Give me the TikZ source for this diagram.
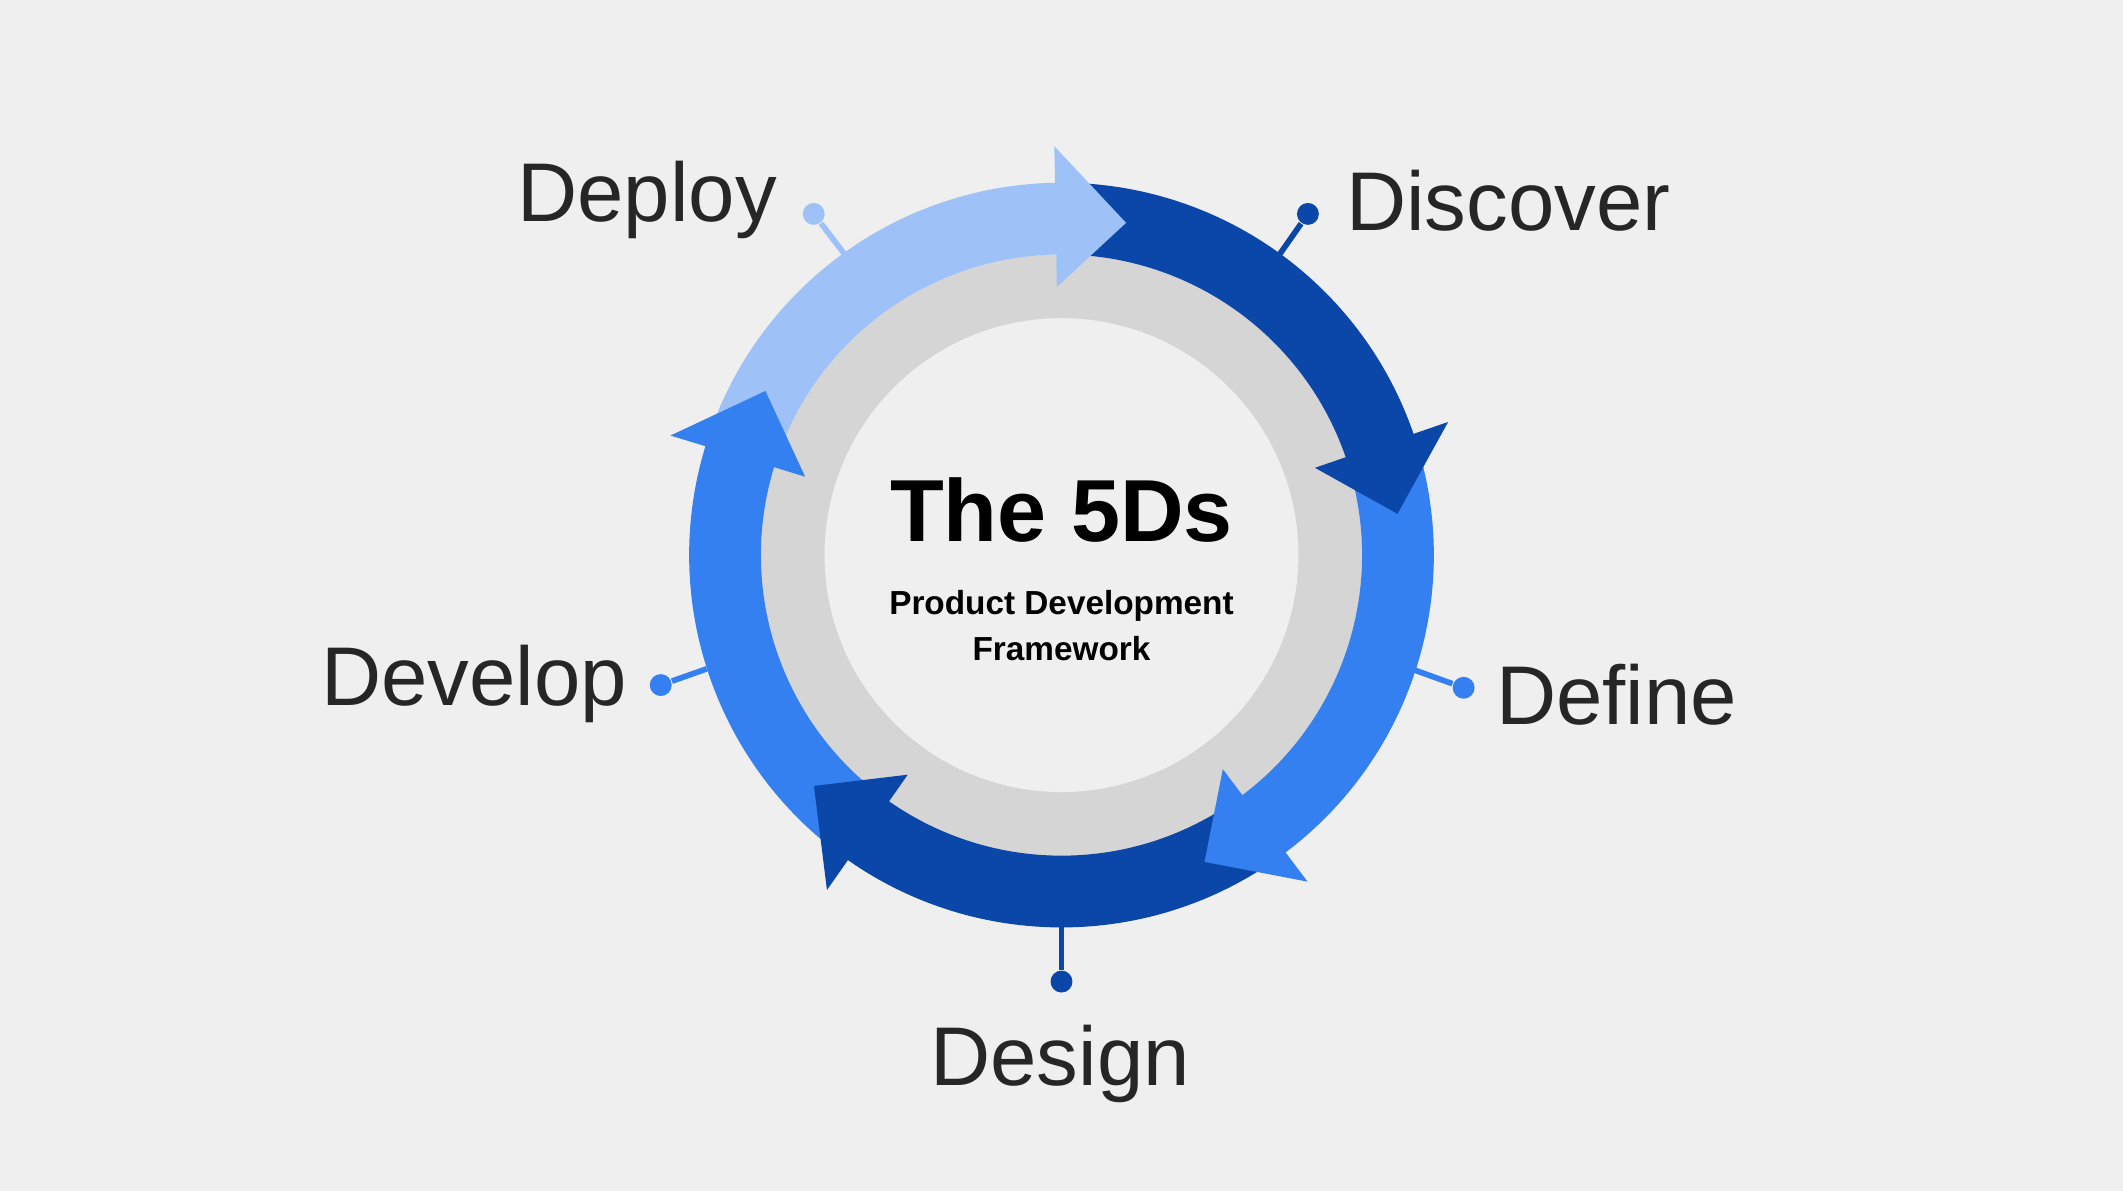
\documentclass[tikz,border=0pt]{standalone}
\usepackage{fontspec}
\setmainfont{Liberation Sans}
\definecolor{bg}{HTML}{EFEFEF}
\definecolor{lightb}{HTML}{9EC2F7}
\definecolor{darkb}{HTML}{0A47A8}
\definecolor{midb}{HTML}{3580F0}
\definecolor{ringg}{HTML}{D5D5D5}
\tikzset{lbl/.style={font=\fontsize{17.5}{20}\selectfont,text=black!85},
dot/.style={circle,inner sep=0pt,minimum size=4.6pt}}
\begin{document}
\begin{tikzpicture}[x=0.01cm,y=0.01cm]
\fill[bg] (0,0) rectangle (1568,880);
\begin{scope}[shift={(784,470)}]
\fill[black!12] (0,-6) circle[radius=224];
\fill[ringg] (0,0) circle[radius=222];
\fill[bg] (0,0) circle[radius=175];
\foreach \t/\c in {79/lightb,7/darkb,-65/midb,-137/darkb,151/midb}{
  \pgfmathsetmacro\a{\t+79}\pgfmathsetmacro\b{\t+10}
  \fill[\c] (\a:275) arc[start angle=\a,end angle=\b,radius=275] -- (\b:222) arc[start angle=\b,end angle=\a,radius=222] -- cycle;}
\foreach \t/\c in {79/lightb,7/darkb,-65/midb,-137/darkb,151/midb}{
  \pgfmathsetmacro\b{\t+12}
  \fill[\c] (\t:250) -- (\b:198) -- (\b:302) -- cycle;}
\node (title) at (0,33) {\fontsize{18.5}{22}\selectfont\bfseries The 5Ds};
\node[align=center,font=\fontsize{7}{9.8}\selectfont\bfseries] (sub) at (0,-52) {Product Development\\Framework};
\end{scope}
\node[dot,fill=lightb] (d1) at (601,722) {};
\coordinate (e1) at (624,692);
\node[dot,fill=darkb] (d2) at (966,722) {};
\coordinate (e2) at (945,692);
\node[dot,fill=midb] (d3) at (1081,372) {};
\coordinate (e3) at (1045,385);
\node[dot,fill=darkb] (d4) at (784,155) {};
\coordinate (e4) at (784,195);
\node[dot,fill=midb] (d5) at (488,374) {};
\coordinate (e5) at (522,386);
\draw[lightb,line width=1.2pt] (d1) -- (e1);
\draw[darkb,line width=1.2pt] (d2) -- (e2);
\draw[midb,line width=1.2pt] (d3) -- (e3);
\draw[darkb,line width=1.2pt] (d4) -- (e4);
\draw[midb,line width=1.2pt] (d5) -- (e5);
\node[lbl] (deploy) at (478,732) {Deploy};
\node[lbl] (discover) at (1114,732) {Discover};
\node[lbl] (define) at (1194,367) {Define};
\node[lbl] (design) at (783,94) {Design};
\node[lbl] (develop) at (350,375) {Develop};
\end{tikzpicture}
\end{document}
